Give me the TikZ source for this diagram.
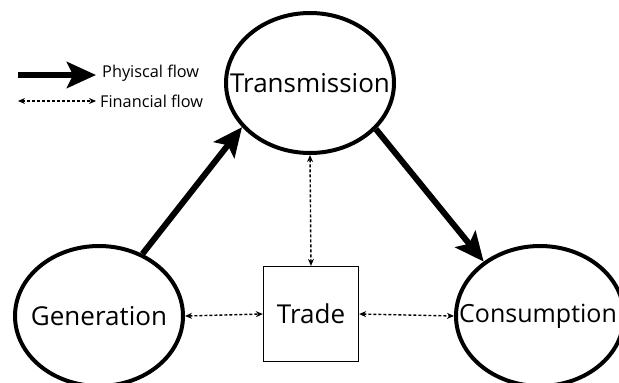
\documentclass[tikz,border=0pt]{standalone}
\usepackage{fontspec}
\setmainfont{Open Sans}
\usetikzlibrary{
  positioning,
  arrows.meta,
  shapes.geometric
}
\tikzset{
  >=Stealth,
  sector/.style={ellipse,draw,line width=4pt,inner sep=0pt,minimum width=168pt,minimum height=140pt,font=\fontsize{26}{30}\selectfont},
  market/.style={rectangle,draw,line width=1.3pt,inner sep=0pt,minimum width=95pt,minimum height=95pt,font=\fontsize{26}{30}\selectfont},
  physflow/.style={-{Stealth[length=29pt,width=26pt,inset=6pt]},line width=6pt},
  finflow/.style={{Stealth[length=7pt,width=6pt]}-{Stealth[length=7pt,width=6pt]},line width=1.4pt,dash pattern=on 3pt off 2pt},
  legendtext/.style={anchor=west,inner sep=0pt,font=\fontsize{16.3}{19}\selectfont}
}

\begin{document}
\begin{tikzpicture}[x=1pt,y=-1pt]
    \useasboundingbox (0,0) rectangle (619,383);

    \node[sector] (transmission) at (310,83) {\makebox[0pt]{Transmission}};
    \node[sector] (generation) at (99,316) {\makebox[0pt]{Generation}};
    \node[sector] (consumption) at (540,316) {\makebox[0pt]{\fontsize{25}{30}\selectfont\hspace*{-4pt}Consumption}};
    \node[market] (trade) at (311,314) {Trade};

    % legend
    \coordinate (physstart) at (18,75);
    \coordinate (physend) at (96,75);
    \coordinate (finstart) at (18,101);
    \coordinate (finend) at (96,101);
    \node[legendtext] (physlabel) at (102,73) {Phyiscal flow};
    \node[legendtext] (finlabel) at (100,101) {Financial flow};
    \draw[physflow] (physstart) -- (physend);
    \draw[finflow] (finstart) -- (finend);

    % flows
    \draw[physflow] (generation.55) -- (transmission.213);
    \draw[physflow] (transmission.325) -- (consumption.136);
    \draw[finflow] (transmission.south) -- (trade.north);
    \draw[finflow] (generation.east) -- (trade.west);
    \draw[finflow] (trade.east) -- (consumption.west);
\end{tikzpicture}
\end{document}
